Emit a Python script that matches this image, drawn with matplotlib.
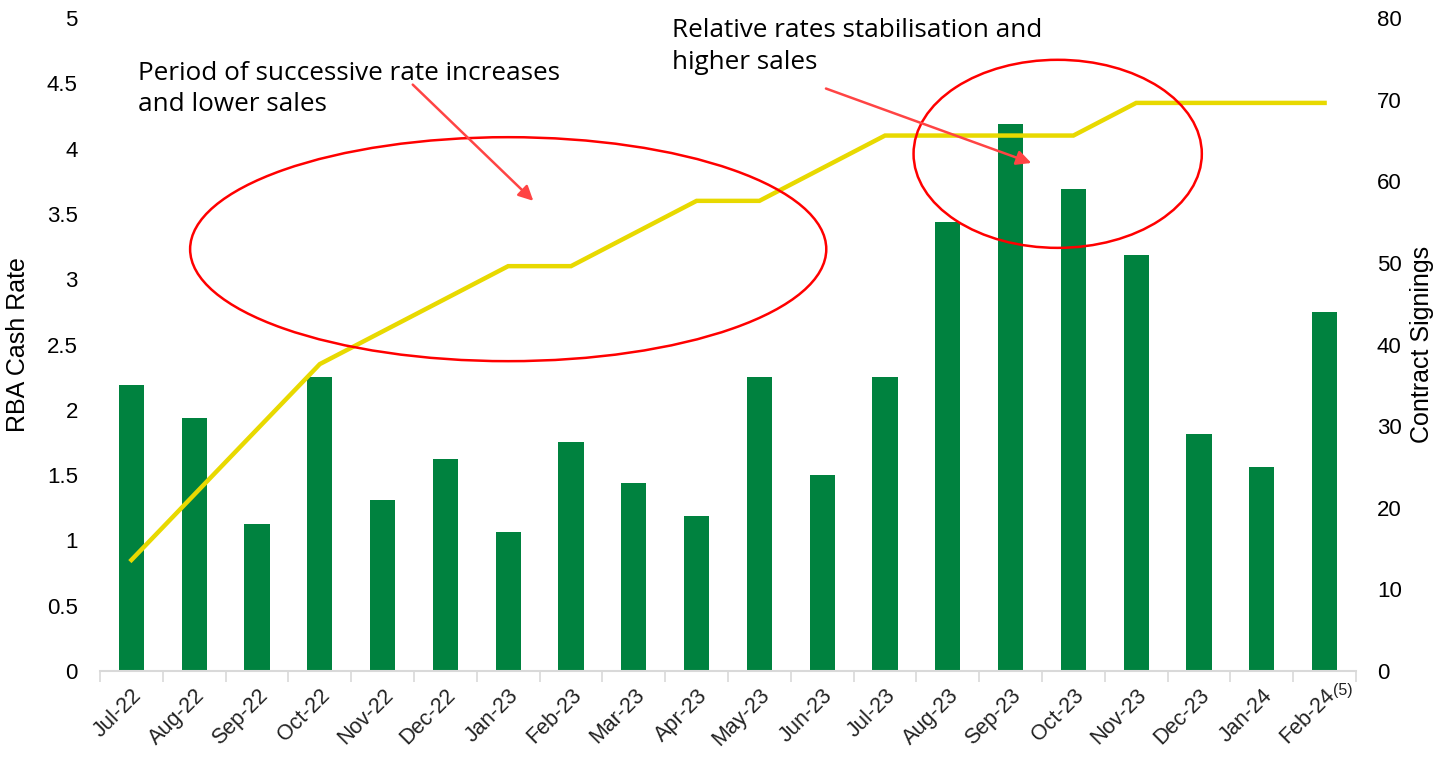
import numpy as np
import matplotlib.pyplot as plt
import matplotlib.ticker as ticker
from matplotlib.patches import Ellipse

# --- Data ---
months = ["Jul-22", "Aug-22", "Sep-22", "Oct-22", "Nov-22", "Dec-22",
          "Jan-23", "Feb-23", "Mar-23", "Apr-23", "May-23", "Jun-23",
          "Jul-23", "Aug-23", "Sep-23", "Oct-23", "Nov-23", "Dec-23",
          "Jan-24", "Feb-24"]
cash_rate = [0.85, 1.35, 1.85, 2.35, 2.60, 2.85, 3.10, 3.10, 3.35, 3.60,
             3.60, 3.85, 4.10, 4.10, 4.10, 4.10, 4.35, 4.35, 4.35, 4.35]
signings = [35, 31, 18, 36, 21, 26, 17, 28, 23, 19,
            36, 24, 36, 55, 67, 59, 51, 29, 25, 44]
footnote = "(5)"   # note marker on the last month

BAR_COLOR  = "#00823F"
LINE_COLOR = "#E8D900"
RED        = "#FF0000"
ARROW_RED  = "#FF4444"
ANNOT_FONT = ["Open Sans", "DejaVu Sans"]

plt.rcParams["font.family"] = ["Liberation Sans", "DejaVu Sans"]

fig = plt.figure(figsize=(14.43, 7.57), dpi=100)
ax = fig.add_axes([0.0693, 0.1136, 0.8704, 0.8626])
ax2 = ax.twinx()

# bars behind, rate line and call-outs in front
ax.set_zorder(ax2.get_zorder() + 1)
ax.patch.set_visible(False)

x = np.arange(len(months))
ax2.bar(x, signings, width=0.4, color=BAR_COLOR, zorder=2)
ax.plot(x, cash_rate, color=LINE_COLOR, lw=3.2, solid_joinstyle="miter", zorder=3)

# --- Axes ---
ax.set_xlim(-0.5, len(months) - 0.5)
ax.set_ylim(0, 5)
ax2.set_ylim(0, 80)
ax.set_yticks(np.arange(0, 5.01, 0.5))
ax.yaxis.set_major_formatter(ticker.FuncFormatter(lambda v, p: f"{v:g}"))
ax2.set_yticks(np.arange(0, 81, 10))

ax.set_xticks(x)
ax.set_xticklabels(months, rotation=45, ha="right", rotation_mode="anchor")
ax.xaxis.set_minor_locator(ticker.FixedLocator(np.arange(-0.5, len(months), 1.0)))
ax.tick_params(axis="x", which="major", length=0, pad=10, labelsize=15.5, colors="#222222")
ax.tick_params(axis="x", which="minor", length=8, width=1.2, color="#D9D9D9")
ax.tick_params(axis="y", length=0, labelsize=16, pad=16)
ax2.tick_params(axis="y", length=0, labelsize=16, pad=15)

# footnote marker beside the last tick label
ax.annotate(footnote, xy=(x[-1], 0), xycoords=("data", "axes fraction"),
            xytext=(8, -19), textcoords="offset pixels",
            fontsize=11.5, color="#222222", ha="left", va="center")

for a in (ax, ax2):
    for side in ("top", "left", "right", "bottom"):
        a.spines[side].set_visible(False)
ax.spines["bottom"].set_visible(True)
ax.spines["bottom"].set_color("#D9D9D9")
ax.spines["bottom"].set_linewidth(1.5)

ax.set_ylabel("RBA Cash Rate", fontsize=18, labelpad=12)
ax2.set_ylabel("Contract Signings", fontsize=18, labelpad=6)

# --- Call-outs ---
ax.add_patch(Ellipse((6.0, 3.23), 10.13, 1.715, fill=False,
                     edgecolor=RED, lw=1.8, zorder=4))
ax.add_patch(Ellipse((14.75, 3.96), 4.59, 1.44, fill=False,
                     edgecolor=RED, lw=1.8, zorder=4))

ax.text(0.105, 4.456, "Period of successive rate increases\nand lower sales",
        fontsize=18.8, family=ANNOT_FONT, va="center", ha="left",
        linespacing=1.35, zorder=5)
ax.text(8.61, 4.78, "Relative rates stabilisation and\nhigher sales",
        fontsize=18.8, family=ANNOT_FONT, va="center", ha="left",
        linespacing=1.35, zorder=5)

arrow_style = dict(arrowstyle="-|>", color=ARROW_RED, lw=1.8,
                   mutation_scale=22, shrinkA=0, shrinkB=0)
ax.annotate("", xy=(6.40, 3.60), xytext=(4.48, 4.49),
            arrowprops=arrow_style, zorder=5)
ax.annotate("", xy=(14.33, 3.89), xytext=(11.06, 4.46),
            arrowprops=arrow_style, zorder=5)

fig.savefig("out.png", dpi=100)
